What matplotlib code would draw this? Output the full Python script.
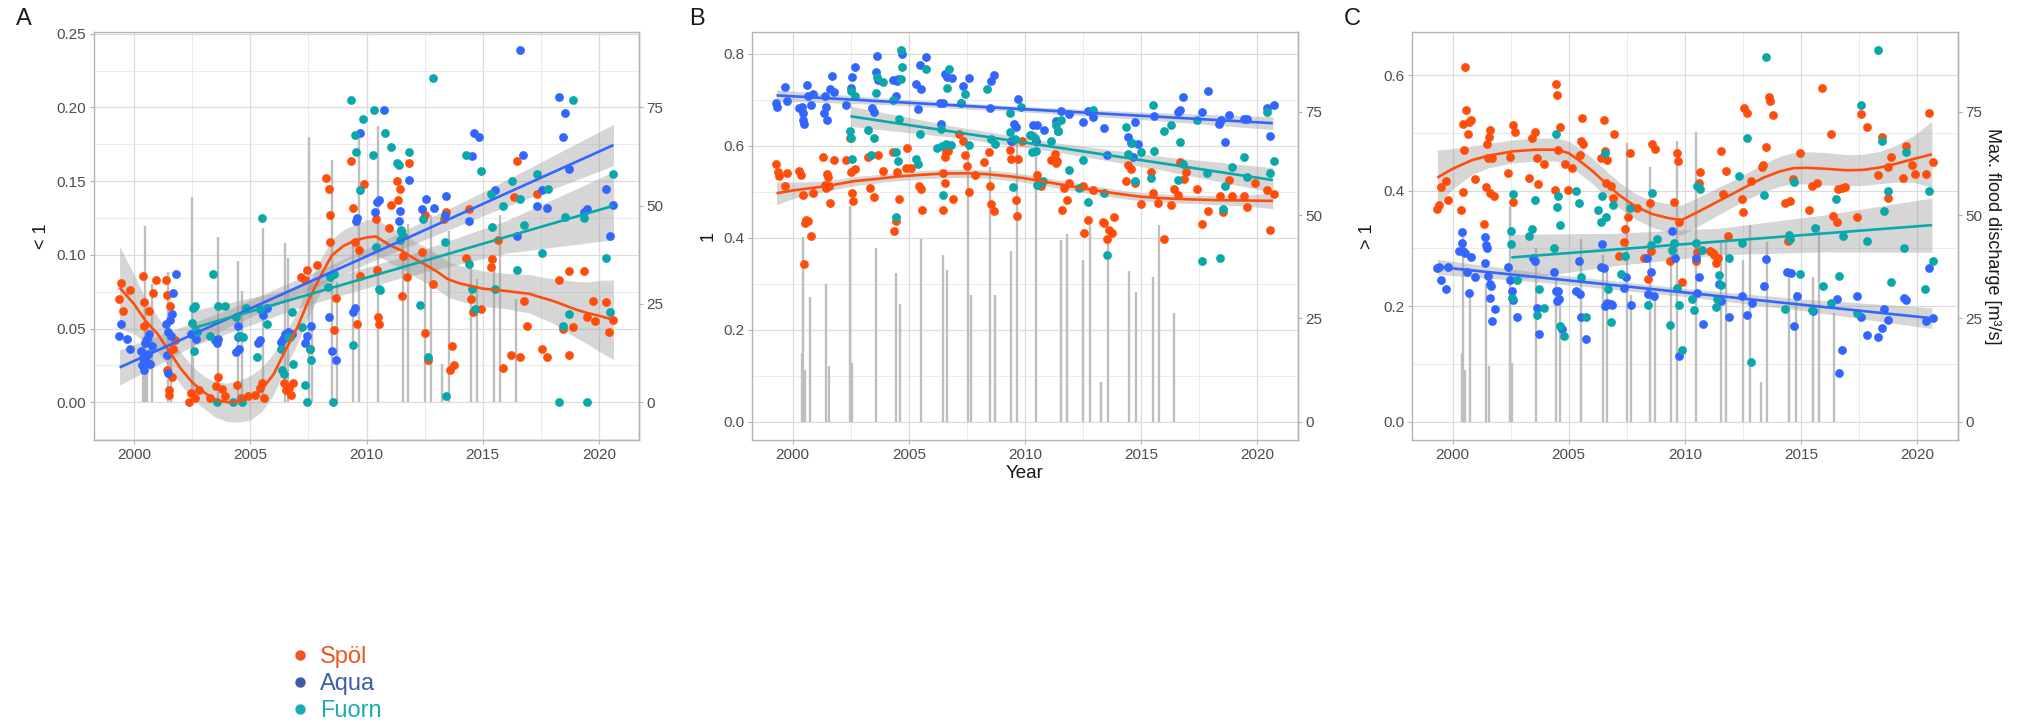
import numpy as np
import matplotlib
matplotlib.use('Agg')
import matplotlib.pyplot as plt
import matplotlib.transforms as mtransforms
from matplotlib.lines import Line2D
from matplotlib.ticker import MultipleLocator, FixedLocator, FormatStrFormatter

plt.rcParams['font.family'] = ['Liberation Sans', 'DejaVu Sans']

# ─── DATA ────────────────────────────────────────────
sites = ['Spöl', 'Aqua', 'Fuorn']

# flood events (date, max. discharge m3/s)
flood_year = [2000.39, 2000.46, 2000.55, 2000.75, 2001.44, 2001.58, 2002.47, 2002.54, 2003.59, 2004.45,
              2004.63, 2005.53, 2006.49, 2006.64, 2007.53, 2007.66, 2008.51, 2008.72, 2009.41, 2009.66,
              2010.49, 2011.57, 2011.79, 2012.51, 2012.79, 2013.27, 2013.55, 2014.48, 2014.76, 2015.50,
              2015.75, 2016.43]
flood_q = [16.6, 44.8, 12.4, 30.2, 33.2, 13.5, 52.3, 14.3, 42.0, 35.9,
           28.4, 44.3, 40.4, 36.8, 67.5, 30.6, 61.6, 30.6, 41.4, 68.0,
           70.2, 43.9, 45.4, 39.0, 47.7, 9.7, 43.5, 36.5, 31.3, 35.1,
           47.7, 26.3]

# Panel A  (< 1)
a_spol_x = [1999.33, 1999.43, 1999.50, 1999.83, 2000.36, 2000.43, 2000.44, 2000.62, 2000.80, 2000.93,
            2001.38, 2001.40, 2001.43, 2001.48, 2001.50, 2001.55, 2001.62, 2001.69, 2001.76, 2002.35,
            2002.45, 2002.60, 2002.80, 2003.27, 2003.52, 2003.62, 2003.77, 2003.91, 2004.41, 2004.60,
            2004.90, 2005.20, 2005.43, 2005.50, 2005.60, 2006.45, 2006.55, 2006.65, 2006.75, 2006.85,
            2007.20, 2007.35, 2007.45, 2007.56, 2007.85, 2008.24, 2008.37, 2008.42, 2008.45, 2008.60,
            2008.68, 2009.33, 2009.43, 2009.51, 2009.60, 2009.69, 2009.74, 2009.89, 2010.43, 2010.46,
            2010.50, 2010.55, 2010.96, 2011.04, 2011.30, 2011.37, 2011.45, 2011.54, 2011.59, 2011.76,
            2011.83, 2012.41, 2012.51, 2012.53, 2012.63, 2012.87, 2013.35, 2013.44, 2013.61, 2013.69,
            2013.77, 2014.30, 2014.41, 2014.51, 2014.59, 2014.94, 2015.34, 2015.40, 2015.66, 2015.87,
            2016.23, 2016.37, 2016.49, 2016.59, 2016.76, 2016.89, 2017.34, 2017.56, 2017.79, 2018.30,
            2018.47, 2018.70, 2018.73, 2018.87, 2019.37, 2019.49, 2019.74, 2019.84, 2020.33, 2020.46,
            2020.63]
a_spol_y = [0.070, 0.081, 0.062, 0.076, 0.086, 0.068, 0.052, 0.062, 0.074, 0.083,
            0.083, 0.073, 0.022, 0.008, 0.005, 0.065, 0.017, 0.036, 0.042, 0.000,
            0.006, 0.003, 0.008, 0.003, 0.011, 0.017, 0.009, 0.004, 0.012, 0.003,
            0.004, 0.005, 0.010, 0.013, 0.003, 0.013, 0.008, 0.010, 0.005, 0.013,
            0.085, 0.083, 0.090, 0.036, 0.093, 0.152, 0.145, 0.109, 0.127, 0.049,
            0.071, 0.164, 0.132, 0.109, 0.053, 0.103, 0.086, 0.148, 0.124, 0.090,
            0.058, 0.053, 0.118, 0.134, 0.150, 0.137, 0.145, 0.072, 0.099, 0.085,
            0.162, 0.102, 0.127, 0.047, 0.029, 0.080, 0.124, 0.129, 0.022, 0.038,
            0.025, 0.098, 0.131, 0.070, 0.061, 0.063, 0.092, 0.097, 0.110, 0.023,
            0.032, 0.139, 0.164, 0.031, 0.069, 0.052, 0.141, 0.036, 0.031, 0.083,
            0.050, 0.032, 0.089, 0.051, 0.089, 0.058, 0.069, 0.055, 0.068, 0.048,
            0.056]
a_aqua_x = [1999.33, 1999.43, 1999.68, 1999.80, 2000.30, 2000.35, 2000.40, 2000.42, 2000.45, 2000.50,
            2000.55, 2000.58, 2000.62, 2000.68, 2000.75, 2001.38, 2001.43, 2001.44, 2001.45, 2001.52,
            2001.60, 2001.62, 2001.69, 2001.80, 2002.45, 2002.66, 2003.50, 2003.55, 2003.60, 2004.40,
            2004.45, 2004.48, 2004.50, 2004.55, 2005.35, 2005.43, 2005.55, 2005.73, 2006.30, 2006.40,
            2006.50, 2006.60, 2006.80, 2007.35, 2007.45, 2007.60, 2008.37, 2008.50, 2008.68, 2009.40,
            2009.50, 2009.55, 2009.60, 2009.74, 2010.38, 2010.45, 2010.52, 2010.77, 2011.38, 2011.45,
            2011.50, 2011.83, 2012.40, 2012.55, 2012.90, 2013.37, 2013.44, 2014.41, 2014.54, 2014.63,
            2014.83, 2015.51, 2016.49, 2016.59, 2016.74, 2017.34, 2017.54, 2017.77, 2018.30, 2018.46,
            2018.54, 2018.70, 2019.37, 2019.49, 2020.33, 2020.49, 2020.63]
a_aqua_y = [0.045, 0.053, 0.043, 0.036, 0.035, 0.025, 0.030, 0.022, 0.040, 0.028,
            0.043, 0.033, 0.046, 0.026, 0.038, 0.053, 0.032, 0.020, 0.048, 0.056,
            0.045, 0.060, 0.074, 0.087, 0.046, 0.043, 0.042, 0.040, 0.043, 0.034,
            0.044, 0.052, 0.036, 0.045, 0.040, 0.042, 0.059, 0.064, 0.041, 0.043,
            0.046, 0.048, 0.046, 0.040, 0.045, 0.052, 0.058, 0.035, 0.029, 0.061,
            0.064, 0.123, 0.125, 0.183, 0.129, 0.136, 0.137, 0.198, 0.123, 0.130,
            0.116, 0.151, 0.131, 0.138, 0.132, 0.127, 0.140, 0.123, 0.167, 0.183,
            0.180, 0.144, 0.113, 0.239, 0.168, 0.133, 0.144, 0.132, 0.207, 0.180,
            0.196, 0.158, 0.129, 0.131, 0.145, 0.113, 0.134]
a_fuorn_x = [2002.48, 2002.52, 2002.58, 2002.62, 2002.70, 2003.27, 2003.41, 2003.55, 2003.60, 2003.90,
             2004.27, 2004.40, 2004.50, 2004.63, 2004.70, 2004.80, 2005.30, 2005.40, 2005.50, 2005.70,
             2006.30, 2006.38, 2006.45, 2006.60, 2006.70, 2006.78, 2006.85, 2007.22, 2007.35, 2007.45,
             2007.56, 2007.60, 2008.35, 2008.45, 2008.57, 2008.60, 2009.33, 2009.40, 2009.50, 2009.55,
             2009.71, 2009.86, 2010.29, 2010.34, 2010.40, 2010.52, 2010.60, 2010.80, 2011.06, 2011.30,
             2011.40, 2011.45, 2011.50, 2011.55, 2011.83, 2012.30, 2012.44, 2012.63, 2012.87, 2013.37,
             2013.44, 2014.30, 2014.41, 2014.54, 2014.66, 2014.94, 2015.34, 2015.41, 2015.51, 2015.89,
             2016.26, 2016.49, 2016.59, 2016.76, 2017.34, 2017.56, 2017.80, 2018.30, 2018.46, 2018.54,
             2018.73, 2018.87, 2019.37, 2019.49, 2020.33, 2020.49, 2020.63]
a_fuorn_y = [0.054, 0.064, 0.035, 0.065, 0.048, 0.045, 0.087, 0.000, 0.065, 0.065,
             0.000, 0.058, 0.045, 0.000, 0.044, 0.064, 0.031, 0.063, 0.125, 0.053,
             0.036, 0.022, 0.019, 0.044, 0.044, 0.061, 0.026, 0.051, 0.012, 0.000,
             0.036, 0.029, 0.078, 0.085, 0.000, 0.087, 0.205, 0.039, 0.181, 0.170,
             0.144, 0.192, 0.168, 0.198, 0.105, 0.077, 0.076, 0.183, 0.173, 0.162,
             0.161, 0.110, 0.117, 0.113, 0.170, 0.066, 0.124, 0.031, 0.220, 0.109,
             0.004, 0.168, 0.094, 0.077, 0.063, 0.157, 0.141, 0.119, 0.077, 0.133,
             0.150, 0.090, 0.138, 0.120, 0.155, 0.101, 0.145, 0.000, 0.052, 0.126,
             0.060, 0.205, 0.125, 0.000, 0.098, 0.061, 0.155]

# smoothers A (fit, ribbon half-width)
a_spol_fit_x = [1999.37, 2000.0, 2000.5, 2001.0, 2001.5, 2002.0, 2002.5, 2003.0, 2003.5, 2004.0,
                2004.5, 2005.0, 2005.5, 2006.0, 2006.5, 2007.0, 2007.5, 2008.0, 2008.5, 2009.0,
                2009.5, 2010.0, 2010.4, 2011.0, 2011.5, 2012.0, 2012.5, 2013.0, 2013.5, 2014.0,
                2015.0, 2016.0, 2017.0, 2017.5, 2018.0, 2018.5, 2019.0, 2019.5, 2020.0, 2020.63]
a_spol_fit_y = [0.0778, 0.0665, 0.0550, 0.0465, 0.0347, 0.0229, 0.0134, 0.0068, 0.0017, 0.0000,
                0.0005, 0.0030, 0.0087, 0.0190, 0.0350, 0.0500, 0.0690, 0.0850, 0.0995, 0.1060,
                0.1097, 0.1118, 0.1125, 0.1066, 0.1030, 0.0980, 0.0936, 0.0890, 0.0835, 0.0807,
                0.0771, 0.0755, 0.0736, 0.0712, 0.0689, 0.0660, 0.0630, 0.0606, 0.0587, 0.0560]
a_spol_fit_se = [0.028, 0.020, 0.015, 0.012, 0.011, 0.011, 0.011, 0.011, 0.012, 0.013,
                 0.014, 0.015, 0.015, 0.014, 0.012, 0.011, 0.011, 0.011, 0.011, 0.011,
                 0.011, 0.012, 0.012, 0.012, 0.012, 0.012, 0.012, 0.012, 0.012, 0.012,
                 0.012, 0.012, 0.013, 0.014, 0.015, 0.017, 0.019, 0.021, 0.024, 0.027]
a_aqua_fit_x = [1999.37, 2004.0, 2010.0, 2015.0, 2020.63]
a_aqua_fit_y = [0.0236, 0.0565, 0.0990, 0.1345, 0.1745]
a_aqua_fit_se = [0.012, 0.006, 0.005, 0.008, 0.014]
a_fuorn_fit_x = [2002.48, 2007.0, 2011.5, 2016.0, 2020.63]
a_fuorn_fit_y = [0.0500, 0.0707, 0.0914, 0.1121, 0.1333]
a_fuorn_fit_se = [0.012, 0.007, 0.007, 0.011, 0.023]

# Panel B  (1)
b_spol_x = [1999.31, 1999.38, 1999.42, 1999.67, 1999.76, 2000.29, 2000.36, 2000.43, 2000.50, 2000.52,
            2000.58, 2000.65, 2000.79, 2000.86, 2001.32, 2001.40, 2001.45, 2001.48, 2001.52, 2001.58,
            2001.62, 2001.77, 2002.30, 2002.49, 2002.50, 2002.55, 2002.60, 2002.70, 2003.23, 2003.35,
            2003.52, 2003.66, 2003.88, 2004.34, 2004.38, 2004.45, 2004.50, 2004.57, 2004.86, 2004.93,
            2005.10, 2005.46, 2005.53, 2005.55, 2006.47, 2006.49, 2006.54, 2006.56, 2006.60, 2006.70,
            2006.90, 2007.18, 2007.33, 2007.40, 2007.51, 2007.57, 2007.87, 2008.22, 2008.45, 2008.48,
            2008.55, 2008.66, 2009.37, 2009.41, 2009.45, 2009.63, 2009.65, 2009.70, 2009.89, 2010.49,
            2010.53, 2010.67, 2011.10, 2011.27, 2011.34, 2011.39, 2011.59, 2011.67, 2011.81, 2011.91,
            2012.49, 2012.53, 2012.70, 2012.91, 2013.34, 2013.41, 2013.53, 2013.63, 2013.73, 2013.84,
            2014.34, 2014.44, 2014.56, 2014.74, 2015.01, 2015.41, 2015.49, 2015.70, 2015.96, 2016.30,
            2016.39, 2016.56, 2016.66, 2016.84, 2016.94, 2017.41, 2017.60, 2017.87, 2018.37, 2018.51,
            2018.77, 2018.91, 2019.44, 2019.56, 2019.91, 2020.39, 2020.53, 2020.70]
b_spol_y = [0.561, 0.543, 0.534, 0.513, 0.540, 0.546, 0.536, 0.493, 0.343, 0.433,
            0.438, 0.436, 0.404, 0.497, 0.576, 0.515, 0.508, 0.538, 0.531, 0.512,
            0.476, 0.568, 0.568, 0.617, 0.542, 0.497, 0.480, 0.549, 0.576, 0.508,
            0.488, 0.580, 0.546, 0.587, 0.415, 0.436, 0.543, 0.485, 0.551, 0.595,
            0.552, 0.512, 0.506, 0.461, 0.540, 0.461, 0.576, 0.519, 0.587, 0.589,
            0.485, 0.626, 0.610, 0.580, 0.555, 0.499, 0.536, 0.565, 0.587, 0.513,
            0.474, 0.459, 0.591, 0.572, 0.610, 0.482, 0.448, 0.571, 0.610, 0.610,
            0.536, 0.512, 0.568, 0.581, 0.563, 0.566, 0.460, 0.508, 0.482, 0.518,
            0.513, 0.410, 0.438, 0.503, 0.434, 0.433, 0.397, 0.417, 0.410, 0.444,
            0.523, 0.559, 0.549, 0.519, 0.473, 0.542, 0.497, 0.476, 0.397, 0.470,
            0.506, 0.493, 0.565, 0.527, 0.542, 0.506, 0.430, 0.457, 0.491, 0.455,
            0.525, 0.491, 0.491, 0.466, 0.518, 0.504, 0.416, 0.495]
b_aqua_x = [1999.31, 1999.35, 1999.67, 1999.76, 2000.29, 2000.40, 2000.43, 2000.47, 2000.50, 2000.62,
            2000.65, 2000.79, 2000.86, 2001.36, 2001.40, 2001.45, 2001.50, 2001.60, 2001.68, 2001.77,
            2002.30, 2002.50, 2002.55, 2002.70, 2003.40, 2003.50, 2003.60, 2003.62, 2003.66, 2004.31,
            2004.45, 2004.50, 2004.55, 2004.71, 2005.29, 2005.39, 2005.50, 2005.53, 2005.75, 2006.33,
            2006.39, 2006.47, 2006.54, 2006.65, 2006.85, 2007.26, 2007.33, 2007.59, 2008.48, 2008.55,
            2008.66, 2009.41, 2009.53, 2009.63, 2009.70, 2010.34, 2010.49, 2010.53, 2010.81, 2011.34,
            2011.41, 2011.56, 2011.91, 2012.49, 2012.70, 2012.91, 2013.41, 2013.53, 2014.41, 2014.56,
            2014.66, 2014.73, 2014.84, 2015.56, 2016.56, 2016.67, 2016.80, 2017.60, 2017.87, 2018.34,
            2018.45, 2018.59, 2018.77, 2019.44, 2019.56, 2020.39, 2020.53, 2020.70]
b_aqua_y = [0.693, 0.685, 0.727, 0.697, 0.681, 0.685, 0.670, 0.655, 0.648, 0.731,
            0.708, 0.689, 0.712, 0.670, 0.708, 0.685, 0.655, 0.723, 0.752, 0.717,
            0.688, 0.725, 0.749, 0.770, 0.681, 0.674, 0.761, 0.795, 0.742, 0.742,
            0.708, 0.740, 0.746, 0.799, 0.734, 0.679, 0.776, 0.723, 0.792, 0.693,
            0.648, 0.693, 0.755, 0.749, 0.747, 0.693, 0.729, 0.747, 0.681, 0.740,
            0.753, 0.610, 0.648, 0.640, 0.702, 0.644, 0.610, 0.645, 0.634, 0.654,
            0.632, 0.676, 0.669, 0.651, 0.676, 0.663, 0.638, 0.580, 0.619, 0.606,
            0.576, 0.651, 0.604, 0.664, 0.674, 0.678, 0.706, 0.674, 0.718, 0.648,
            0.655, 0.608, 0.666, 0.659, 0.659, 0.681, 0.621, 0.689]
b_fuorn_x = [2002.49, 2002.50, 2002.52, 2002.55, 2002.70, 2003.23, 2003.38, 2003.52, 2003.60, 2003.62,
             2003.90, 2004.31, 2004.43, 2004.45, 2004.53, 2004.60, 2004.65, 2004.67, 2004.70, 2005.32,
             2005.39, 2005.49, 2005.75, 2006.20, 2006.39, 2006.45, 2006.47, 2006.60, 2006.65, 2006.75,
             2006.80, 2007.26, 2007.40, 2007.57, 2008.38, 2008.55, 2008.69, 2009.34, 2009.36, 2009.48,
             2009.55, 2009.84, 2010.20, 2010.27, 2010.30, 2010.41, 2010.46, 2010.53, 2010.63, 2010.77,
             2011.10, 2011.34, 2011.41, 2011.56, 2011.91, 2012.34, 2012.49, 2012.70, 2012.91, 2013.41,
             2013.53, 2014.34, 2014.44, 2014.60, 2014.73, 2015.01, 2015.41, 2015.49, 2015.56, 2015.96,
             2016.30, 2016.56, 2016.66, 2016.81, 2017.41, 2017.60, 2017.84, 2018.37, 2018.51, 2018.59,
             2018.91, 2019.44, 2019.56, 2020.39, 2020.53, 2020.70]
b_fuorn_y = [0.631, 0.616, 0.719, 0.572, 0.708, 0.634, 0.580, 0.617, 0.715, 0.749,
             0.738, 0.700, 0.444, 0.587, 0.566, 0.659, 0.746, 0.807, 0.772, 0.572,
             0.561, 0.625, 0.767, 0.596, 0.636, 0.600, 0.493, 0.604, 0.725, 0.767,
             0.602, 0.693, 0.712, 0.602, 0.723, 0.614, 0.604, 0.629, 0.670, 0.510,
             0.614, 0.685, 0.623, 0.623, 0.586, 0.616, 0.589, 0.515, 0.519, 0.523,
             0.610, 0.644, 0.631, 0.655, 0.548, 0.508, 0.568, 0.478, 0.678, 0.498,
             0.363, 0.640, 0.583, 0.606, 0.523, 0.587, 0.529, 0.688, 0.589, 0.632,
             0.644, 0.525, 0.608, 0.561, 0.655, 0.349, 0.540, 0.356, 0.463, 0.512,
             0.553, 0.576, 0.533, 0.674, 0.540, 0.567]

b_spol_fit_x = [1999.31, 2000.0, 2001.44, 2002.66, 2003.66, 2004.53, 2005.53, 2006.54, 2007.54, 2008.40,
                2009.41, 2010.0, 2010.7, 2011.56, 2012.7, 2013.84, 2015.0, 2016.13, 2017.27, 2018.41,
                2019.56, 2020.66]
b_spol_fit_y = [0.4966, 0.5026, 0.5120, 0.5230, 0.5280, 0.5330, 0.5366, 0.5396, 0.5400, 0.5380,
                0.5330, 0.5290, 0.5230, 0.5155, 0.5057, 0.4966, 0.4890, 0.4853, 0.4830, 0.4815,
                0.4808, 0.4800]
b_spol_fit_se = [0.025, 0.018, 0.011, 0.010, 0.009, 0.009, 0.009, 0.009, 0.009, 0.009,
                 0.009, 0.009, 0.009, 0.009, 0.009, 0.009, 0.009, 0.009, 0.009, 0.010,
                 0.012, 0.017]
b_aqua_fit_x = [1999.31, 2004.0, 2010.0, 2015.0, 2020.66]
b_aqua_fit_y = [0.7094, 0.6961, 0.6792, 0.6650, 0.6490]
b_aqua_fit_se = [0.012, 0.007, 0.006, 0.008, 0.014]
b_fuorn_fit_x = [2002.49, 2007.0, 2011.5, 2016.0, 2020.66]
b_fuorn_fit_y = [0.6640, 0.6296, 0.5953, 0.5609, 0.5253]
b_fuorn_fit_se = [0.022, 0.012, 0.010, 0.015, 0.027]

# Panel C  (> 1)
c_spol_x = [1999.35, 1999.40, 1999.50, 1999.71, 1999.80, 2000.37, 2000.45, 2000.47, 2000.50, 2000.52,
            2000.59, 2000.65, 2000.70, 2000.80, 2000.95, 2001.36, 2001.44, 2001.50, 2001.52, 2001.55,
            2001.60, 2001.62, 2001.70, 2001.80, 2002.37, 2002.48, 2002.59, 2002.62, 2002.70, 2003.28,
            2003.42, 2003.56, 2003.64, 2003.70, 2003.92, 2004.43, 2004.47, 2004.50, 2004.53, 2004.61,
            2004.86, 2004.97, 2005.14, 2005.50, 2005.55, 2005.57, 2005.60, 2006.41, 2006.51, 2006.55,
            2006.62, 2006.65, 2006.80, 2006.90, 2006.94, 2007.18, 2007.37, 2007.44, 2007.56, 2007.63,
            2007.95, 2008.23, 2008.42, 2008.49, 2008.52, 2008.59, 2008.71, 2009.38, 2009.53, 2009.64,
            2009.70, 2009.74, 2009.89, 2010.46, 2010.53, 2010.60, 2010.67, 2011.10, 2011.20, 2011.27,
            2011.34, 2011.41, 2011.56, 2011.63, 2011.77, 2011.84, 2012.46, 2012.50, 2012.53, 2012.67,
            2012.86, 2013.31, 2013.36, 2013.50, 2013.60, 2013.67, 2013.79, 2014.31, 2014.43, 2014.53,
            2014.67, 2014.96, 2015.36, 2015.46, 2015.67, 2015.91, 2016.27, 2016.36, 2016.53, 2016.60,
            2016.75, 2016.91, 2017.39, 2017.57, 2017.84, 2018.31, 2018.46, 2018.74, 2018.76, 2018.89,
            2019.39, 2019.53, 2019.77, 2019.90, 2020.36, 2020.50, 2020.67]
c_spol_y = [0.369, 0.375, 0.407, 0.417, 0.384, 0.367, 0.397, 0.516, 0.471, 0.615,
            0.539, 0.498, 0.519, 0.523, 0.421, 0.342, 0.407, 0.480, 0.456, 0.493,
            0.505, 0.396, 0.456, 0.390, 0.431, 0.459, 0.514, 0.381, 0.501, 0.422,
            0.492, 0.501, 0.456, 0.412, 0.447, 0.401, 0.584, 0.565, 0.471, 0.511,
            0.446, 0.401, 0.440, 0.462, 0.486, 0.525, 0.480, 0.456, 0.523, 0.469,
            0.414, 0.453, 0.408, 0.387, 0.499, 0.287, 0.312, 0.333, 0.354, 0.465,
            0.370, 0.284, 0.247, 0.379, 0.295, 0.481, 0.472, 0.278, 0.381, 0.465,
            0.451, 0.345, 0.242, 0.278, 0.293, 0.414, 0.432, 0.296, 0.292, 0.289,
            0.275, 0.283, 0.469, 0.394, 0.434, 0.322, 0.385, 0.363, 0.544, 0.534,
            0.417, 0.441, 0.444, 0.475, 0.563, 0.555, 0.531, 0.379, 0.313, 0.382,
            0.420, 0.465, 0.367, 0.408, 0.414, 0.578, 0.498, 0.357, 0.345, 0.403,
            0.405, 0.407, 0.354, 0.533, 0.511, 0.427, 0.493, 0.387, 0.441, 0.459,
            0.422, 0.477, 0.445, 0.429, 0.429, 0.535, 0.449]
c_aqua_x = [1999.35, 1999.42, 1999.51, 1999.71, 1999.80, 2000.30, 2000.40, 2000.42, 2000.45, 2000.55,
            2000.62, 2000.69, 2000.80, 2000.95, 2001.38, 2001.40, 2001.45, 2001.50, 2001.52, 2001.60,
            2001.62, 2001.67, 2001.70, 2001.81, 2002.39, 2002.48, 2002.55, 2002.60, 2002.77, 2003.46,
            2003.53, 2003.64, 2003.71, 2004.35, 2004.45, 2004.50, 2004.55, 2004.60, 2004.71, 2005.33,
            2005.43, 2005.50, 2005.52, 2005.75, 2006.37, 2006.44, 2006.51, 2006.58, 2006.65, 2006.72,
            2006.80, 2006.87, 2007.37, 2007.47, 2007.66, 2008.38, 2008.40, 2008.56, 2008.66, 2009.43,
            2009.57, 2009.74, 2010.46, 2010.50, 2010.60, 2010.79, 2011.46, 2011.56, 2011.89, 2012.46,
            2012.67, 2012.89, 2013.39, 2013.50, 2014.41, 2014.57, 2014.70, 2014.81, 2015.53, 2016.53,
            2016.63, 2016.77, 2017.39, 2017.57, 2017.84, 2018.31, 2018.46, 2018.57, 2018.74, 2019.41,
            2019.53, 2020.36, 2020.50, 2020.67]
c_aqua_y = [0.266, 0.268, 0.245, 0.230, 0.268, 0.296, 0.328, 0.310, 0.295, 0.292,
            0.260, 0.223, 0.286, 0.251, 0.275, 0.319, 0.306, 0.300, 0.253, 0.239,
            0.215, 0.235, 0.174, 0.195, 0.268, 0.245, 0.227, 0.211, 0.182, 0.284,
            0.278, 0.197, 0.152, 0.259, 0.226, 0.209, 0.227, 0.212, 0.160, 0.226,
            0.278, 0.221, 0.182, 0.144, 0.268, 0.307, 0.266, 0.200, 0.206, 0.203,
            0.204, 0.202, 0.232, 0.250, 0.202, 0.284, 0.221, 0.260, 0.218, 0.331,
            0.283, 0.114, 0.283, 0.223, 0.251, 0.169, 0.239, 0.209, 0.181, 0.218,
            0.185, 0.206, 0.235, 0.281, 0.259, 0.257, 0.166, 0.217, 0.191, 0.212,
            0.085, 0.125, 0.218, 0.181, 0.150, 0.146, 0.163, 0.196, 0.176, 0.214,
            0.211, 0.174, 0.266, 0.179]
c_fuorn_x = [2002.50, 2002.53, 2002.55, 2002.59, 2002.77, 2003.28, 2003.42, 2003.56, 2003.64, 2003.71,
             2003.92, 2004.38, 2004.47, 2004.50, 2004.54, 2004.61, 2004.64, 2004.78, 2005.33, 2005.43,
             2005.55, 2005.75, 2006.26, 2006.37, 2006.44, 2006.55, 2006.62, 2006.70, 2006.80, 2006.90,
             2007.23, 2007.44, 2007.63, 2008.42, 2008.52, 2008.59, 2008.78, 2009.34, 2009.43, 2009.53,
             2009.67, 2009.74, 2009.89, 2010.31, 2010.39, 2010.46, 2010.50, 2010.67, 2010.74, 2011.34,
             2011.40, 2011.46, 2011.56, 2011.89, 2012.31, 2012.46, 2012.67, 2012.86, 2013.39, 2013.49,
             2014.31, 2014.46, 2014.53, 2014.70, 2014.96, 2015.46, 2015.60, 2015.93, 2016.29, 2016.50,
             2016.63, 2016.79, 2017.39, 2017.57, 2017.84, 2018.31, 2018.49, 2018.57, 2018.74, 2018.89,
             2019.41, 2019.53, 2020.34, 2020.50, 2020.67]
c_fuorn_y = [0.331, 0.307, 0.215, 0.395, 0.245, 0.321, 0.334, 0.384, 0.185, 0.230,
             0.197, 0.300, 0.499, 0.372, 0.391, 0.166, 0.340, 0.148, 0.400, 0.379,
             0.250, 0.181, 0.367, 0.345, 0.390, 0.465, 0.354, 0.230, 0.172, 0.375,
             0.256, 0.287, 0.370, 0.202, 0.306, 0.396, 0.316, 0.167, 0.297, 0.310,
             0.232, 0.202, 0.125, 0.212, 0.194, 0.309, 0.408, 0.403, 0.297, 0.198,
             0.212, 0.254, 0.236, 0.283, 0.426, 0.309, 0.491, 0.103, 0.393, 0.632,
             0.195, 0.324, 0.316, 0.415, 0.256, 0.194, 0.336, 0.235, 0.206, 0.385,
             0.253, 0.322, 0.188, 0.549, 0.313, 0.644, 0.486, 0.364, 0.399, 0.242,
             0.300, 0.467, 0.230, 0.400, 0.278]

c_spol_fit_x = [1999.35, 2000.0, 2000.83, 2001.55, 2002.56, 2003.56, 2004.5, 2005.0, 2005.43, 2006.0,
                2006.58, 2007.16, 2007.87, 2008.59, 2009.31, 2009.85, 2010.53, 2011.24, 2011.96, 2012.67,
                2013.39, 2014.1, 2014.67, 2015.24, 2016.1, 2016.96, 2017.67, 2018.39, 2019.1, 2019.81,
                2020.63]
c_spol_fit_y = [0.4227, 0.4378, 0.4528, 0.4606, 0.4680, 0.4710, 0.4710, 0.4650, 0.4528, 0.4348,
                0.4137, 0.3927, 0.3728, 0.3596, 0.3524, 0.3490, 0.3626, 0.3776, 0.3927, 0.4077,
                0.4227, 0.4336, 0.4390, 0.4396, 0.4378, 0.4354, 0.4360, 0.4402, 0.4468, 0.4546,
                0.4630]
c_spol_fit_se = [0.048, 0.035, 0.025, 0.021, 0.020, 0.020, 0.020, 0.021, 0.022, 0.022,
                 0.022, 0.022, 0.022, 0.023, 0.025, 0.026, 0.025, 0.024, 0.023, 0.023,
                 0.024, 0.026, 0.027, 0.028, 0.028, 0.027, 0.027, 0.028, 0.032, 0.040,
                 0.057]
c_aqua_fit_x = [1999.35, 2004.0, 2010.0, 2015.0, 2020.63]
c_aqua_fit_y = [0.2682, 0.2488, 0.2237, 0.2027, 0.1792]
c_aqua_fit_se = [0.013, 0.008, 0.007, 0.010, 0.018]
c_fuorn_fit_x = [2002.53, 2007.0, 2011.5, 2016.0, 2020.63]
c_fuorn_fit_y = [0.2844, 0.2982, 0.3121, 0.3260, 0.3404]
c_fuorn_fit_se = [0.040, 0.028, 0.023, 0.032, 0.047]

# ─── STYLE ───────────────────────────────────────────
colours = {'Spöl': '#FF4E0C', 'Aqua': '#3366FF', 'Fuorn': '#0AA8AA'}
legend_colours = {'Spöl': '#EE5522', 'Aqua': '#3F5CAA', 'Fuorn': '#1AACB8'}
tick_col = '#4D4D4D'
frame_col = '#B3B3B3'
W, H = 2025, 726


def draw_panel(ax, pts, fits, k, ylim, ymaj, ymin, yfmt):
    # flood bars on the discharge scale (right axis)
    bar_tf = mtransforms.Affine2D().scale(1, k) + ax.transData
    ax.vlines(flood_year, 0, flood_q, transform=bar_tf, colors='#BEBEBE',
              linewidth=1.7, zorder=1)

    for (fx, fy, fse), site in zip(fits, sites):
        fy, fse = np.array(fy), np.array(fse)
        ax.fill_between(fx, fy - fse, fy + fse, color='#999999', alpha=0.4,
                        linewidth=0, zorder=2)
    for (x, y), site in zip(pts, sites):
        ax.scatter(x, y, s=40, color=colours[site], linewidths=0, zorder=3)
    for (fx, fy, fse), site in zip(fits, sites):
        ax.plot(fx, fy, color=colours[site], linewidth=1.9, zorder=4,
                solid_capstyle='butt')

    ax.set_xlim(1998.27, 2021.73)
    ax.set_ylim(*ylim)
    ax.xaxis.set_major_locator(MultipleLocator(5))
    ax.xaxis.set_minor_locator(MultipleLocator(2.5))
    ax.yaxis.set_major_locator(MultipleLocator(ymaj))
    ax.yaxis.set_minor_locator(MultipleLocator(ymin))
    ax.yaxis.set_major_formatter(FormatStrFormatter(yfmt))
    ax.xaxis.set_major_formatter(FormatStrFormatter('%d'))
    ax.grid(which='major', color='#DCDCDC', linewidth=0.9, zorder=0)
    ax.grid(which='minor', color='#E8E8E8', linewidth=0.6, zorder=0)
    ax.set_axisbelow(True)
    ax.tick_params(which='major', labelsize=11, labelcolor=tick_col, color=frame_col,
                   length=3, width=0.8, pad=2.5)
    ax.tick_params(which='minor', length=0)
    for sp in ax.spines.values():
        sp.set_color(frame_col)
        sp.set_linewidth(1.0)

    sec = ax.secondary_yaxis('right', functions=(lambda y: y / k, lambda r: r * k))
    sec.yaxis.set_major_locator(FixedLocator([0, 25, 50, 75]))
    sec.tick_params(labelsize=11, labelcolor=tick_col, color=frame_col,
                    length=3, width=0.8, pad=2.5)
    sec.spines['right'].set_color(frame_col)
    sec.spines['right'].set_linewidth(1.0)
    return sec


fig = plt.figure(figsize=(W / 100, H / 100), dpi=100)
bottom, height = 1 - 440 / H, 408.3 / H
axA = fig.add_axes([94 / W, bottom, 545 / W, height])
axB = fig.add_axes([752.3 / W, bottom, 545.4 / W, height])
axC = fig.add_axes([1412.3 / W, bottom, 545.2 / W, height])

draw_panel(axA,
           [(a_spol_x, a_spol_y), (a_aqua_x, a_aqua_y), (a_fuorn_x, a_fuorn_y)],
           [(a_spol_fit_x, a_spol_fit_y, a_spol_fit_se),
            (a_aqua_fit_x, a_aqua_fit_y, a_aqua_fit_se),
            (a_fuorn_fit_x, a_fuorn_fit_y, a_fuorn_fit_se)],
           0.2 / 75, (-0.0256, 0.2514), 0.05, 0.025, '%.2f')
draw_panel(axB,
           [(b_spol_x, b_spol_y), (b_aqua_x, b_aqua_y), (b_fuorn_x, b_fuorn_y)],
           [(b_spol_fit_x, b_spol_fit_y, b_spol_fit_se),
            (b_aqua_fit_x, b_aqua_fit_y, b_aqua_fit_se),
            (b_fuorn_fit_x, b_fuorn_fit_y, b_fuorn_fit_se)],
           0.6739 / 75, (-0.0398, 0.8478), 0.2, 0.1, '%.1f')
draw_panel(axC,
           [(c_spol_x, c_spol_y), (c_aqua_x, c_aqua_y), (c_fuorn_x, c_fuorn_y)],
           [(c_spol_fit_x, c_spol_fit_y, c_spol_fit_se),
            (c_aqua_fit_x, c_aqua_fit_y, c_aqua_fit_se),
            (c_fuorn_fit_x, c_fuorn_fit_y, c_fuorn_fit_se)],
           0.5368 / 75, (-0.0317, 0.6753), 0.2, 0.1, '%.1f')

# ─── TEXT ────────────────────────────────────────────
mid_y = 1 - 236 / H
for txt, x in [('A', 24), ('B', 697), ('C', 1352)]:
    fig.text(x / W, 1 - 19 / H, txt, fontsize=17, color='#1A1A1A', ha='center', va='center')
for txt, x in [('< 1', 42), ('1', 708), ('> 1', 1368)]:
    fig.text(x / W, mid_y, txt, fontsize=13, color='#1A1A1A', rotation=90,
             ha='center', va='center')
fig.text(1025 / W, 1 - 473 / H, 'Year', fontsize=13.5, color='#1A1A1A', ha='center', va='center')
fig.text(1992 / W, mid_y, 'Max. flood discharge [m³/s]', fontsize=13, color='#1A1A1A',
         rotation=270, ha='center', va='center')

# legend
handles = [Line2D([], [], linestyle='none', marker='o', markersize=7.5,
                  markerfacecolor=legend_colours[s], markeredgewidth=0) for s in sites]
fig.legend(handles, sites, loc='upper left', bbox_to_anchor=(290.6 / W, 1 - 646 / H),
           frameon=False, fontsize=17, labelcolor=[legend_colours[s] for s in sites],
           handlelength=0.8, handletextpad=0.45, labelspacing=0.22,
           borderpad=0, borderaxespad=0)

fig.savefig('out.png', dpi=100)
